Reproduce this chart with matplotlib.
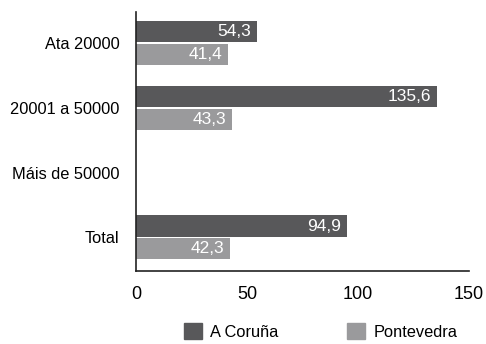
import numpy as np
import matplotlib.pyplot as plt
from matplotlib.patches import Patch

plt.rcParams['font.family'] = ['Liberation Sans', 'DejaVu Sans']

categories = ["Ata 20000", "20001 a 50000", "Máis de 50000", "Total"]
series_names = ["A Coruña", "Pontevedra"]
coruna = [54.3, 135.6, np.nan, 94.9]
pontevedra = [41.4, 43.3, np.nan, 42.3]
colors = ["#58585a", "#9a9a9c"]

fig = plt.figure(figsize=(4.86, 3.44), dpi=100)
ax = fig.add_axes([0.28, 0.212, 0.685, 0.753])

y = np.arange(len(categories))
h = 0.33
off = 0.175
for vals, dy, col in [(coruna, -off, colors[0]), (pontevedra, off, colors[1])]:
    bars = ax.barh(y + dy, vals, height=h, color=col)
    for yy, v in zip(y + dy, vals):
        if np.isnan(v):
            continue
        ax.annotate(f"{v:.1f}".replace('.', ','), xy=(v, yy), xytext=(-4, 0),
                    textcoords='offset points', ha='right', va='center',
                    color='white', fontsize=12.5)

ax.set_xlim(0, 150)
ax.set_ylim(3.52, -0.48)
ax.set_xticks([0, 50, 100, 150])
ax.set_yticks(y)
ax.set_yticklabels(categories, fontsize=11.8)
ax.tick_params(axis='x', length=0, pad=11, labelsize=13)
ax.tick_params(axis='y', length=0, pad=12)
ax.spines['top'].set_visible(False)
ax.spines['right'].set_visible(False)
for s in ['left', 'bottom']:
    ax.spines[s].set_linewidth(1.2)
    ax.spines[s].set_color('#222222')

handles = [Patch(color=c, label=n) for c, n in zip(colors, series_names)]
fig.legend(handles=handles, loc='lower center', bbox_to_anchor=(0.66, -0.03),
           ncol=2, frameon=False, fontsize=11.8, handlelength=1.1, handleheight=1.2,
           handletextpad=0.5, columnspacing=4.2)

fig.savefig("out.png", dpi=100)
